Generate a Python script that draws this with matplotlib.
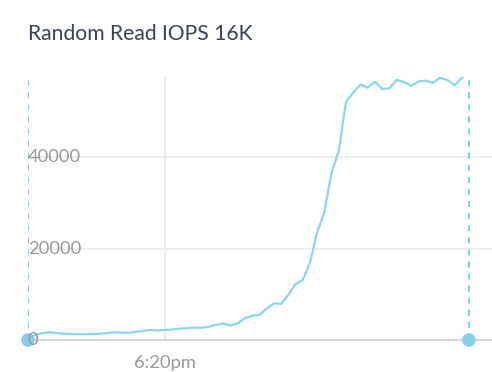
import numpy as np
import matplotlib
matplotlib.use("Agg")
import matplotlib.pyplot as plt
import matplotlib.transforms as mtransforms

# samples every 10 s, first one at 6:16:50pm (minutes after 6pm)
start_min = 16 + 50 / 60
step_min = 10 / 60
iops = [600, 1100, 1500, 1700, 1500, 1400, 1300, 1300, 1300, 1300,
        1400, 1500, 1700, 1600, 1600, 1800, 2000, 2200, 2100, 2200,
        2300, 2500, 2600, 2700, 2700, 2900, 3300, 3600, 3200, 3600,
        4800, 5300, 5500, 6800, 8000, 7900, 9800, 12200, 13100, 16800,
        23500, 27900, 36600, 41400, 52100, 54100, 55800, 55200, 56500, 54900,
        55000, 56900, 56400, 55600, 56500, 56700, 56200, 57300, 56900, 55700,
        57300, 58600]
minutes = start_min + step_min * np.arange(len(iops))

y_ticks = [0, 20000, 40000]
x_ticks = [20]
x_labels = ["6:20pm"]
title = "Random Read IOPS 16K"

line_col = "#8dd4ee"
grid_col = "#ececec"
label_col = "#9a9a9a"

plt.rcParams['font.family'] = ['Lato', 'DejaVu Sans']

fig = plt.figure(figsize=(4.92, 3.72), dpi=100)
ax = fig.add_axes([28 / 492, 32 / 372, 1 - 28 / 492, 263 / 372])

ax.plot(minutes, iops, color=line_col, lw=1.6, zorder=3, solid_joinstyle='round')

ax.set_ylim(0, 57500)
ax.set_xlim(minutes[0], minutes[0] + step_min * 64.2)

# grid
for v in y_ticks[1:]:
    ax.axhline(v, color=grid_col, lw=1.3, zorder=1)
for t in x_ticks:
    ax.axvline(t, color=grid_col, lw=1.3, zorder=1)
ax.axhline(0, color="#d6d6d6", lw=1.6, zorder=2, clip_on=False)

# hover range markers
for t in (minutes[0], minutes[-1]):
    ax.axvline(t, color="#84cde6", lw=1.5, ls=(0, (2.9, 2.9)), zorder=4)
ax.scatter([minutes[0], minutes[-1]], [0, 0], s=95, color="#86cfe9",
           zorder=5, clip_on=False, edgecolors='none')

# y labels drawn inside the plot
trans = mtransforms.blended_transform_factory(ax.transAxes, ax.transData)
for v in y_ticks:
    ax.text(0.0, v, str(v), transform=trans, ha='left', va='center',
            fontsize=13.2, color=label_col, zorder=6)

ax.set_yticks([])
ax.set_xticks(x_ticks)
ax.set_xticklabels(x_labels, fontsize=13.2, color=label_col)
ax.tick_params(axis='x', length=0, pad=11)
for s in ax.spines.values():
    s.set_visible(False)

fig.text(28 / 492, 1 - 34 / 372, title, ha='left', va='center',
         fontsize=15.2, color="#3a4350")

fig.savefig("out.png", dpi=100)
